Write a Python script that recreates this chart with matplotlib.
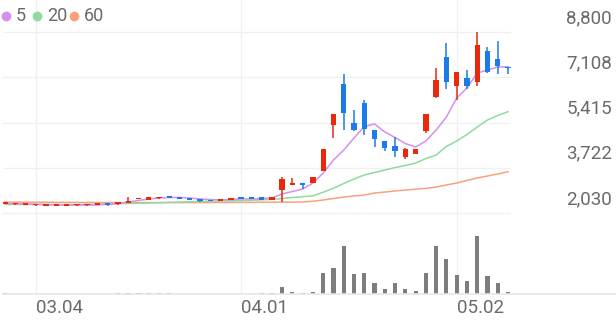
import numpy as np
import matplotlib
matplotlib.use('Agg')
import matplotlib.pyplot as plt
from matplotlib.lines import Line2D

plt.rcParams['font.family'] = ['Roboto', 'DejaVu Sans']

# 일봉 데이터 (시가, 고가, 저가, 종가)
dates = ['02.27', '02.28', '02.29', '03.04', '03.05', '03.06', '03.07', '03.08', '03.11', '03.12',
         '03.13', '03.14', '03.15', '03.18', '03.19', '03.20', '03.21', '03.22', '03.25', '03.26',
         '03.27', '03.28', '03.29', '04.01', '04.02', '04.03', '04.04', '04.05', '04.08', '04.09',
         '04.11', '04.12', '04.15', '04.16', '04.17', '04.18', '04.19', '04.22', '04.23', '04.24',
         '04.25', '04.26', '04.29', '04.30', '05.02', '05.03', '05.07', '05.08', '05.09', '05.10']
opens = [2360, 2350, 2325, 2315, 2295, 2295, 2305, 2315, 2315, 2335,
         2365, 2350, 2400, 2540, 2520, 2575, 2630, 2615, 2550, 2505,
         2495, 2490, 2525, 2580, 2580, 2640, 2505, 2890, 3075, 3165,
         3165, 3610, 5320, 6855, 5385, 6135, 5135, 4725, 4535, 4115,
         4235, 5095, 6380, 7850, 6790, 7070, 6940, 8100, 7780, 7500]
highs = [2400, 2390, 2360, 2350, 2330, 2330, 2340, 2350, 2350, 2370,
         2365, 2445, 2630, 2575, 2615, 2610, 2630, 2615, 2550, 2505,
         2495, 2525, 2565, 2580, 2580, 2640, 2645, 3365, 3350, 3165,
         3395, 4425, 5740, 7230, 5880, 6260, 5135, 4725, 4885, 4460,
         4430, 5730, 7440, 8380, 7320, 7380, 8800, 8230, 8470, 7500]
lows = [2355, 2345, 2320, 2310, 2290, 2290, 2300, 2310, 2310, 2330,
        2290, 2345, 2395, 2535, 2515, 2570, 2600, 2535, 2520, 2440,
        2465, 2485, 2520, 2550, 2550, 2505, 2500, 2455, 3075, 2915,
        3150, 3600, 4825, 5135, 5115, 4945, 4485, 4360, 4135, 4060,
        4225, 5010, 6340, 6670, 6260, 6670, 6790, 7250, 7230, 7230]
closes = [2395, 2385, 2355, 2345, 2325, 2325, 2335, 2345, 2345, 2365,
          2335, 2440, 2455, 2570, 2610, 2605, 2600, 2535, 2520, 2475,
          2465, 2520, 2560, 2550, 2550, 2505, 2640, 3315, 3140, 3065,
          3365, 4410, 5735, 5780, 5135, 5170, 4800, 4450, 4360, 4410,
          4410, 5720, 7000, 6940, 7310, 6790, 8310, 7310, 7540, 7440]
volumes = [5000, 4000, 4000, 3000, 3000, 3000, 3000, 3000, 3000, 4000,
           4000, 6000, 8000, 5000, 6000, 5000, 5000, 4000, 4000, 4000,
           4000, 4000, 4000, 4000, 4000, 5000, 6000, 140000, 40000, 8000,
           28000, 414000, 520000, 960000, 400000, 420000, 220000, 88000, 208000, 94000,
           54000, 420000, 960000, 688000, 368000, 248000, 1154000, 354000, 208000, 28000]

# 이동평균선 (5, 20, 60일)
ma5 = [2385, 2380, 2370, 2360, 2345, 2330, 2325, 2320, 2325, 2330,
       2355, 2385, 2441, 2498, 2554, 2591, 2610, 2610, 2591, 2554,
       2535, 2516, 2535, 2554, 2554, 2572, 2591, 2741, 2834, 2928,
       3152, 3526, 4012, 4386, 4835, 5265, 5359, 5060, 4854, 4629,
       4498, 4723, 5134, 5620, 6331, 6705, 7266, 7378, 7490, 7502]
ma20 = [2348, 2348, 2348, 2348, 2348, 2348, 2348, 2348, 2355, 2359,
        2367, 2374, 2385, 2397, 2404, 2415, 2426, 2438, 2449, 2460,
        2471, 2479, 2486, 2497, 2509, 2524, 2539, 2572, 2610, 2640,
        2673, 2808, 2956, 3133, 3302, 3451, 3545, 3638, 3732, 3806,
        3900, 4068, 4199, 4517, 4723, 4966, 5246, 5508, 5677, 5819]
ma60 = [2440, 2438, 2436, 2434, 2432, 2430, 2428, 2426, 2424, 2422,
        2420, 2420, 2420, 2420, 2420, 2420, 2420, 2420, 2420, 2420,
        2422, 2424, 2426, 2428, 2430, 2432, 2434, 2436, 2438, 2442,
        2471, 2516, 2572, 2628, 2666, 2703, 2778, 2815, 2853, 2890,
        2920, 2950, 3002, 3077, 3152, 3246, 3339, 3414, 3489, 3575]

ytick_vals = [2030, 3722, 5415, 7108, 8800]
xtick_idx = [3, 23, 44]

RED = '#e8290b'
BLUE = '#1a7ce9'
C5, C20, C60 = '#d68ff0', '#8edb9e', '#f9a27a'
GRID = '#f0f0f0'
TXT = '#6a6a6a'

W, H = 616, 321
fig = plt.figure(figsize=(W / 100, H / 100), dpi=100)

def box(x0, y0, x1, y1):
    return [x0 / W, 1 - y1 / H, (x1 - x0) / W, (y1 - y0) / H]

n = len(dates)
x = np.arange(n)
o = np.array(opens); c = np.array(closes)
hi = np.array(highs); lo = np.array(lows)
up = c >= o

# 가격 영역: 2030 -> y=213px, 8800 -> y=32px
ppx = (8800 - 2030) / (213 - 32)
ax = fig.add_axes(box(3, 0, 511, 215))
ax.set_ylim(2030 - 2 * ppx, 8800 + 32 * ppx)
xl = (-2 / 10.27, n - 1 + 3 / 10.27)
ax.set_xlim(*xl)
ax.axis('off')
for v in ytick_vals:
    ax.axhline(v, color=GRID, lw=1.0, zorder=0)
for i in xtick_idx:
    ax.axvline(i, color=GRID, lw=1.0, zorder=0)

ax.plot(x, ma60, color=C60, lw=1.1, zorder=1)
ax.plot(x, ma20, color=C20, lw=1.1, zorder=1)
ax.plot(x, ma5, color=C5, lw=1.1, zorder=1)

cols = np.where(up, RED, BLUE)
ax.vlines(x, lo, hi, colors=cols, lw=1.1, zorder=2)
bot = np.minimum(o, c)
hgt = np.maximum(np.abs(c - o), 1.8 * ppx)
ax.bar(x, hgt, bottom=bot, width=0.52, color=cols, zorder=3)

for v in ytick_vals:
    fig.text(612 / W, 1 - (213 - (v - 2030) / ppx - 14) / H, f'{v:,}',
             ha='right', va='center', fontsize=13.5, color=TXT)

# 거래량 영역
vax = fig.add_axes(box(3, 215, 511, 293.7))
vol = np.array(volumes)
vax.set_ylim(0, vol.max() * 78.7 / 57.7)
vax.set_xlim(*xl)
vax.axis('off')
for i in xtick_idx:
    vax.axvline(i, color=GRID, lw=1.0, zorder=0)
vax.bar(x, vol, width=0.4, color='#7d7d7d', zorder=2)
fig.add_artist(Line2D([3 / W, 1], [1 - 293.7 / H] * 2, color='#e6e6e6', lw=1.2))

for i in xtick_idx:
    px = 3 + (i - xl[0]) / (xl[1] - xl[0]) * 508
    fig.text(px / W, 1 - 308 / H, dates[i], ha='left', va='center',
             fontsize=13.5, color=TXT)

# 범례
lx = 6
for lab, col in [('5', C5), ('20', C20), ('60', C60)]:
    fig.add_artist(Line2D([lx / W], [1 - 16 / H], marker='o', markersize=7,
                          color=col, markeredgewidth=0))
    fig.text((lx + 10) / W, 1 - 16 / H, lab, ha='left', va='center',
             fontsize=13, color=TXT)
    lx += 25 + 6 * len(lab)

fig.savefig('out.png', dpi=100)
